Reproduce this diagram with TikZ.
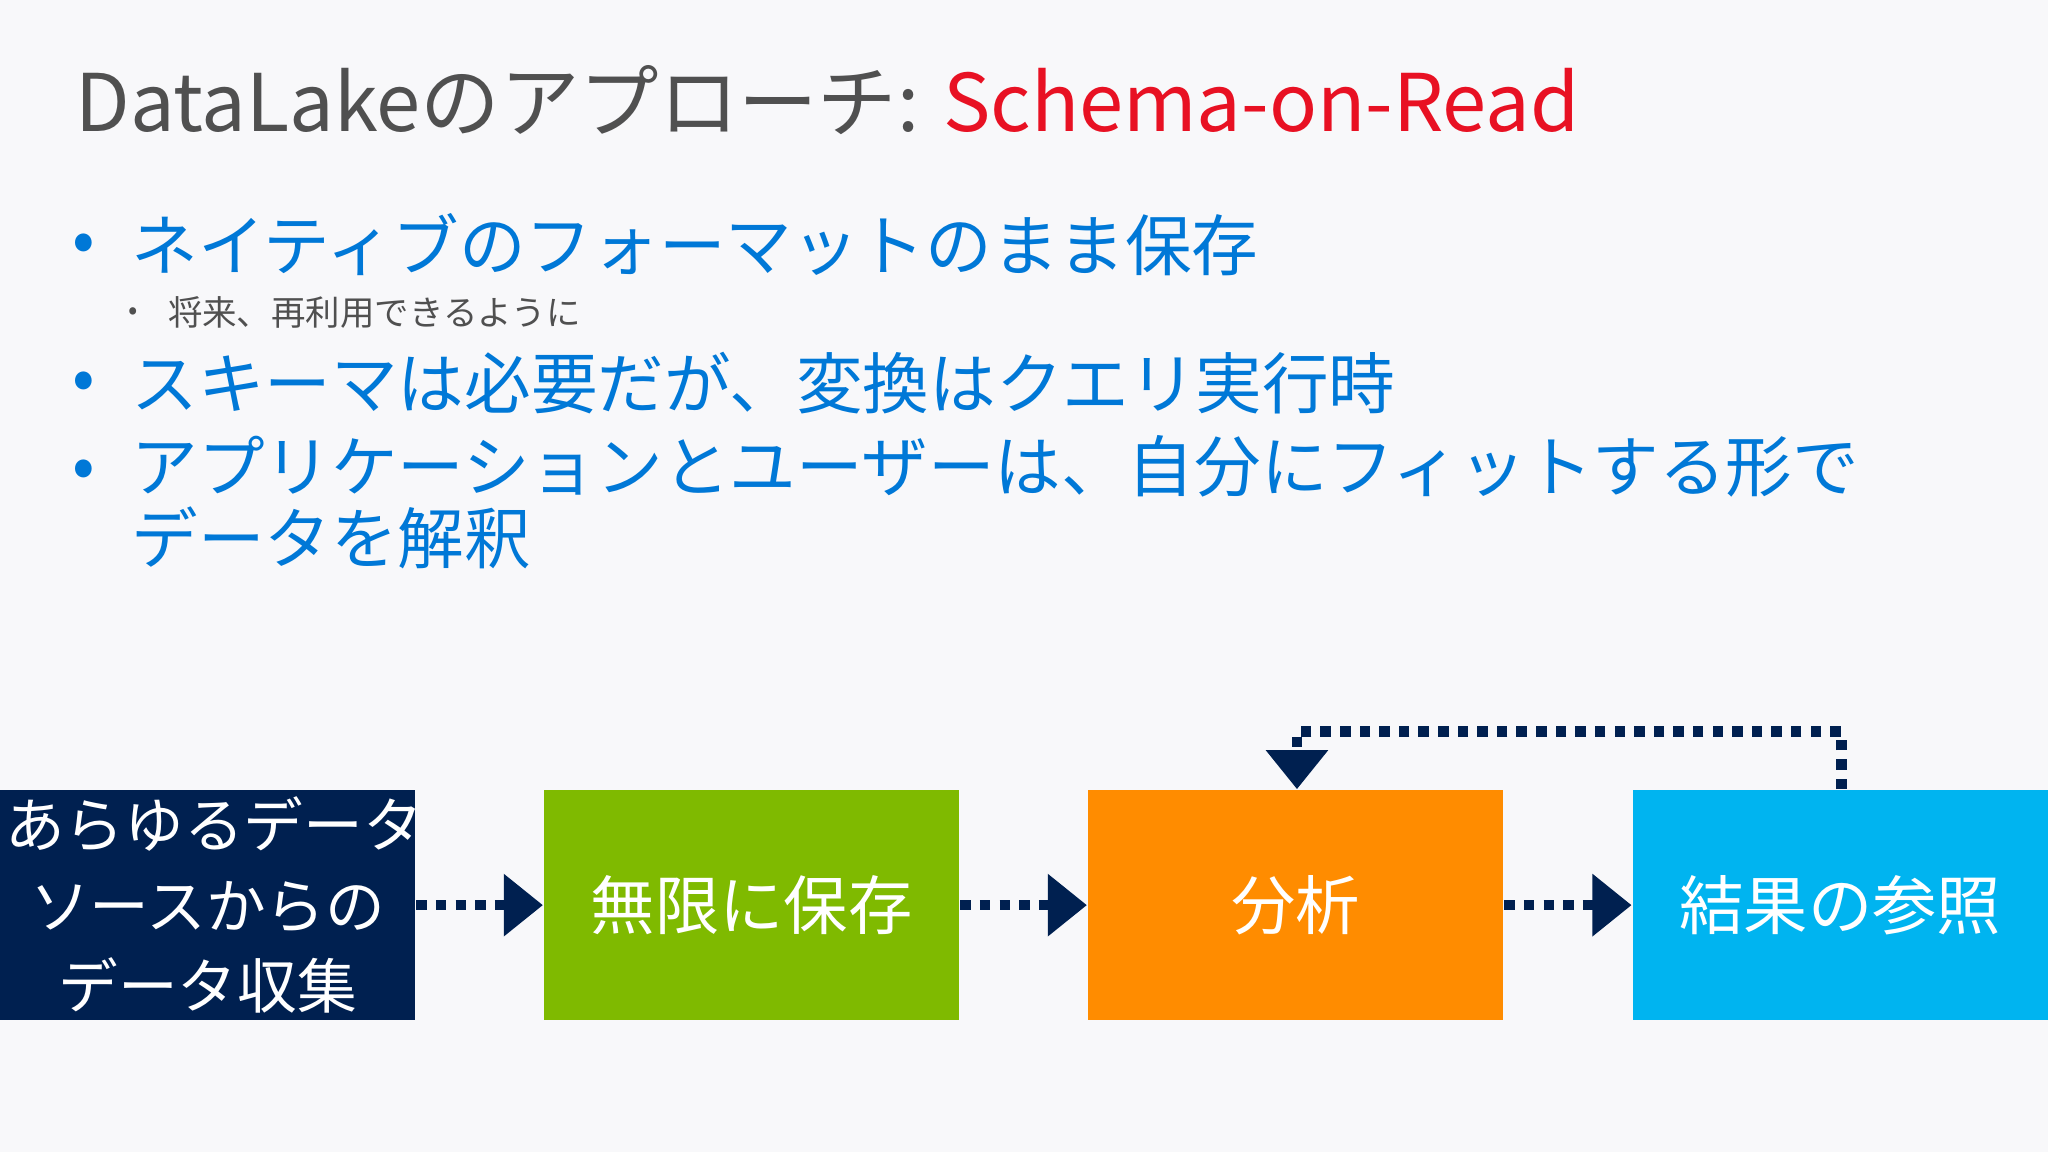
\documentclass[tikz,border=0pt]{standalone}
\usepackage{fontspec}
\setmainfont{Noto Sans CJK JP}
\usetikzlibrary{arrows.meta,calc}
\definecolor{bg}{HTML}{F8F8FA}
\definecolor{ttl}{HTML}{505050}
\definecolor{red1}{HTML}{E81123}
\definecolor{blu}{HTML}{0078D7}
\definecolor{navy}{HTML}{002050}
\definecolor{grn}{HTML}{7FBA00}
\definecolor{org}{HTML}{FF8C00}
\definecolor{cya}{HTML}{00B4F0}
\tikzset{
 box/.style={minimum width=3.18cm,minimum height=1.76cm,text width=3.1cm,inner sep=0pt,text=white,font=\fontsize{14}{17}\selectfont,align=center},
 bul/.style={anchor=west,text=blu,font=\fontsize{14.5}{17}\selectfont,inner sep=0pt},
 dotline/.style={navy,line width=0.08cm,dash pattern=on 0.08cm off 0.07cm},
 tip/.style={-{Triangle[length=0.3cm,width=0.46cm]},navy,line width=0.08cm}
}
\begin{document}
\begin{tikzpicture}[x=0.01cm,y=-0.01cm]
\fill[bg] (0,0) rectangle (1568,882);
\useasboundingbox (0,0) rectangle (1568,882);
\node[anchor=west,inner sep=0pt,font=\fontsize{17.3}{20}\selectfont] (title) at (57,77) {\textcolor{ttl}{DataLakeのアプローチ: }\textcolor{red1}{Schema-on-Read}};
\node[bul] (d1) at (55,190) {•};
\node[bul] (b1) at (100,187) {ネイティブのフォーマットのまま保存};
\node[anchor=west,inner sep=0pt,text=ttl,font=\fontsize{6}{8}\selectfont] (d1s) at (98,240) {•};
\node[anchor=west,inner sep=0pt,text=ttl,font=\fontsize{7.5}{9}\selectfont] (b1s) at (128,239) {将来、再利用できるように};
\node[bul] (d2) at (55,296) {•};
\node[bul] (b2) at (100,293) {スキーマは必要だが、変換はクエリ実行時};
\node[bul] (d3) at (55,363) {•};
\node[bul,align=left,anchor=north west,font=\fontsize{14.5}{15.5}\selectfont] (b3) at (100,333) {アプリケーションとユーザーは、自分にフィットする形で\\データを解釈};
\node[box,fill=navy,font=\fontsize{13}{17.5}\selectfont] (s1) at (159,693) {あらゆるデータ\\ソースからの\\データ収集};
\node[box,fill=grn] (s2) at (575.5,693) {無限に保存};
\node[box,fill=org] (s3) at (992,693) {分析};
\node[box,fill=cya] (s4) at (1409,693) {結果の参照};
\foreach \a/\b in {s1/s2,s2/s3,s3/s4}{
 \draw[dotline] (\a.east) -- ($(\b.west)+(-28,0)$);
 \draw[tip] ($(\b.west)+(-30,0)$) -- (\b.west);
}
\coordinate (c1) at (1410,560);
\coordinate (c2) at (993,560);
\draw[dotline] ($(s4.north)+(1,0)$) -- (c1) -- (c2) -- ($(s3.north)+(1,-28)$);
\draw[tip] ($(s3.north)+(1,-30)$) -- ($(s3.north)+(1,0)$);
\end{tikzpicture}
\end{document}
